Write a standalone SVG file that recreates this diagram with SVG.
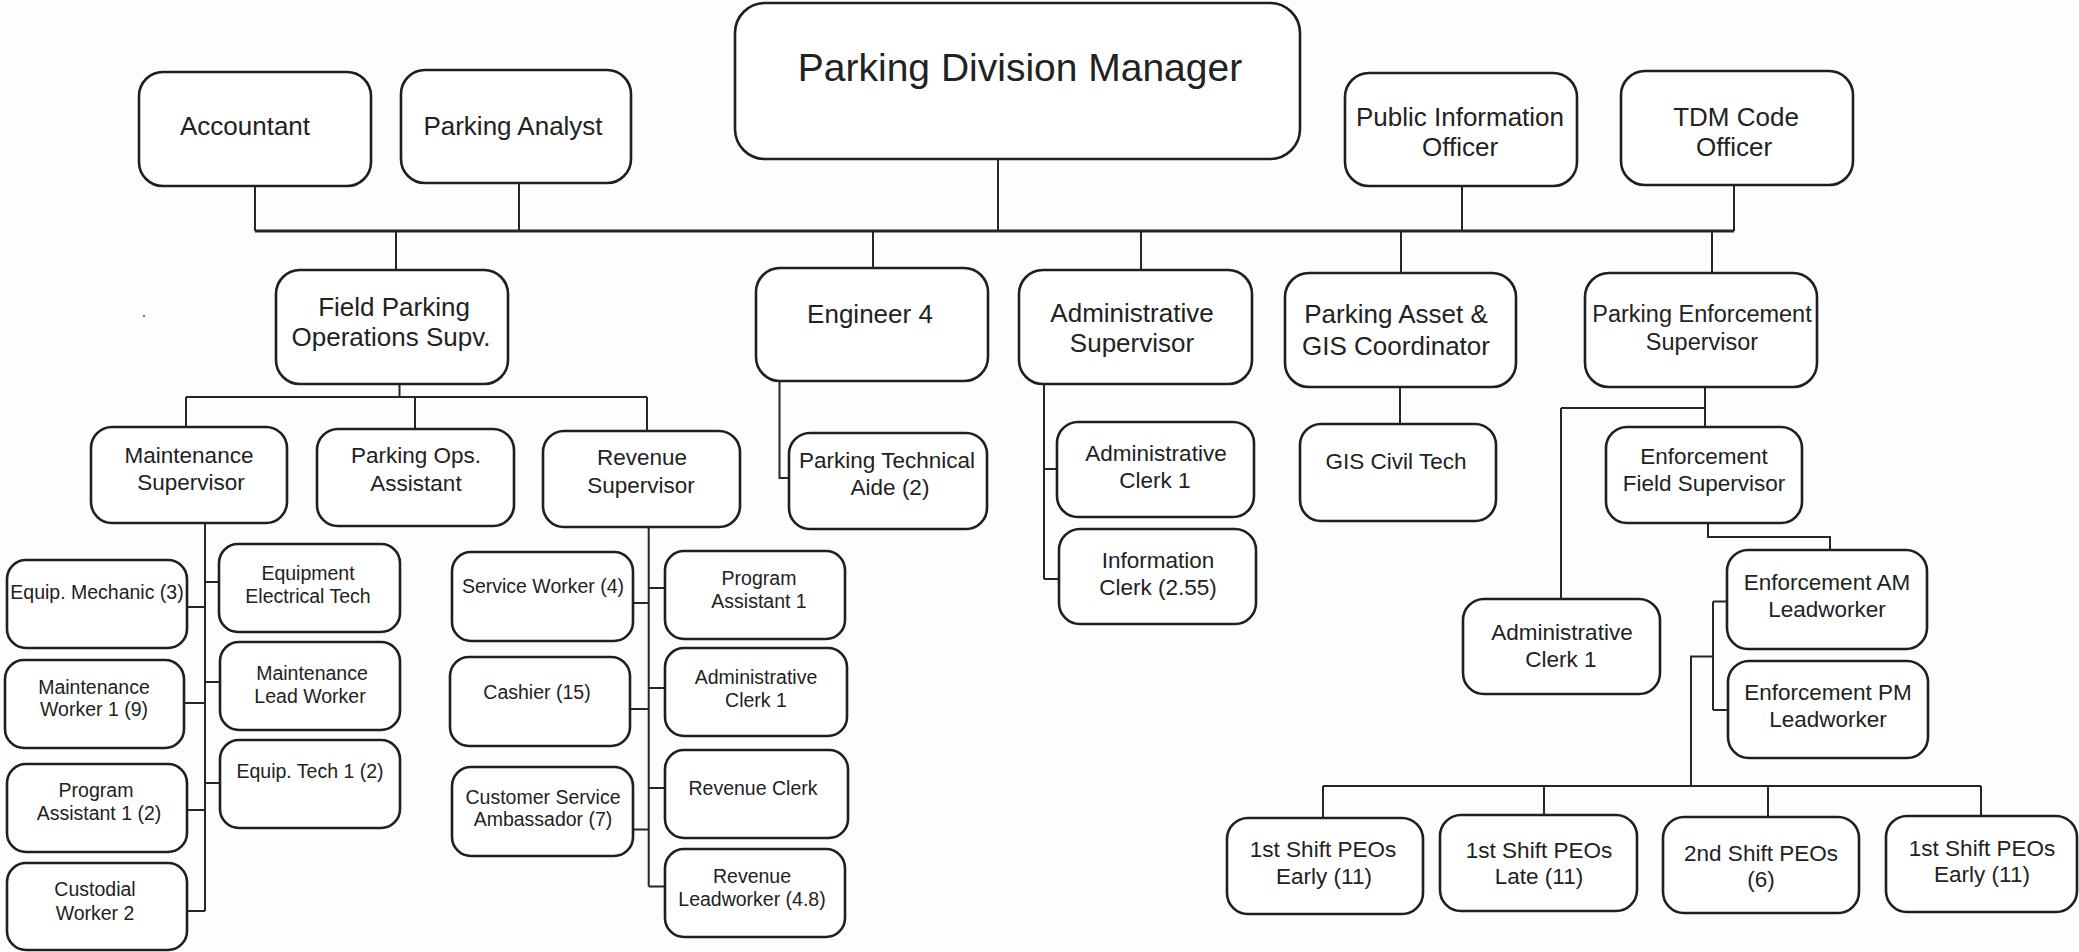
<svg xmlns="http://www.w3.org/2000/svg" width="2079" height="952" viewBox="0 0 2079 952">
<style>
.box{fill:#fff;stroke:#1f1f1f;stroke-width:2.6}
.c{fill:none;stroke:#262626;stroke-width:2}
.bus{fill:none;stroke:#262626;stroke-width:3.2}
text{font-family:"Liberation Sans",Arial,sans-serif;fill:#222;text-anchor:middle}
.f39{font-size:39px}
.f26{font-size:26px}
.f235{font-size:23.5px}
.f22{font-size:22.5px}
.f19{font-size:19.5px}
</style>
<rect x="0" y="0" width="2079" height="952" fill="#fdfdfd"/>
<circle cx="144" cy="316" r="1.2" fill="#777"/>
<g id="connectors">
<path class="c" d="M255 186V231M519 183V231M998 159V231M1462 186V231M1734 185V231"/>
<path class="bus" d="M255 231H1734"/>
<path class="c" d="M396 231V270M873 231V268M1141 231V270M1401 231V273M1712 231V273"/>
<path class="c" d="M399.5 384V397M186 397H647M186 397V427M415 397V429M647 397V431"/>
<path class="c" d="M205 523V911M187 607H205M184 703H205M187 810H205M187 911H205M205 582H219M205 682H220M205 783H220"/>
<path class="c" d="M648.7 527V886.6M633 603H648.7M630 709H648.7M633 829.6H648.7M648.7 588H665M648.7 688H665M648.7 788H665M648.7 886.6H665"/>
<path class="c" d="M779.5 381V478H789"/>
<path class="c" d="M1044 384V579M1044 469H1057M1044 579H1059"/>
<path class="c" d="M1400 387V424"/>
<path class="c" d="M1705 387V427M1561 408H1705M1561 408V599"/>
<path class="c" d="M1708 523V537H1830V550"/>
<path class="c" d="M1713 601.5V710M1713 601.5H1727M1713 710H1728M1713 656.5H1691V786"/>
<path class="c" d="M1323 786H1981M1323 786V818M1544 786V815M1768 786V817M1981 786V816"/>
</g>
<g id="manager"><rect class="box" x="735" y="3" width="565" height="156" rx="30"/><text class="f39" x="1020" y="81">Parking Division Manager</text></g>
<g id="accountant"><rect class="box" x="139" y="72" width="232" height="114" rx="24"/><text class="f26" x="245" y="135">Accountant</text></g>
<g id="analyst"><rect class="box" x="401" y="70" width="230" height="113" rx="24"/><text class="f26" x="513" y="135">Parking Analyst</text></g>
<g id="pio"><rect class="box" x="1345" y="73" width="232" height="113" rx="24"/><text class="f26" x="1460" y="126">Public Information</text><text class="f26" x="1460" y="156">Officer</text></g>
<g id="tdm"><rect class="box" x="1621" y="71" width="232" height="114" rx="24"/><text class="f26" x="1736" y="126">TDM Code</text><text class="f26" x="1734" y="156">Officer</text></g>
<g id="fpos"><rect class="box" x="276" y="270" width="232" height="114" rx="24"/><text class="f26" x="394" y="316">Field Parking</text><text class="f26" x="391" y="346">Operations Supv.</text></g>
<g id="eng4"><rect class="box" x="756" y="268" width="232" height="113" rx="24"/><text class="f26" x="870" y="323">Engineer 4</text></g>
<g id="adminsup"><rect class="box" x="1019" y="270" width="233" height="114" rx="24"/><text class="f26" x="1132" y="322">Administrative</text><text class="f26" x="1132" y="352">Supervisor</text></g>
<g id="asset"><rect class="box" x="1285" y="273" width="231" height="114" rx="24"/><text class="f26" x="1396" y="323">Parking Asset &amp;</text><text class="f26" x="1396" y="355">GIS Coordinator</text></g>
<g id="pes"><rect class="box" x="1585" y="273" width="232" height="114" rx="24"/><text class="f235" x="1702" y="322">Parking Enforcement</text><text class="f235" x="1702" y="350">Supervisor</text></g>
<g id="maintsup"><rect class="box" x="91" y="427" width="196" height="96" rx="21"/><text class="f22" x="189" y="463">Maintenance</text><text class="f22" x="191" y="490">Supervisor</text></g>
<g id="opsasst"><rect class="box" x="317" y="429" width="197" height="97" rx="21"/><text class="f22" x="416" y="463">Parking Ops.</text><text class="f22" x="416" y="491">Assistant</text></g>
<g id="revsup"><rect class="box" x="543" y="431" width="197" height="96" rx="21"/><text class="f22" x="642" y="465">Revenue</text><text class="f22" x="641" y="493">Supervisor</text></g>
<g id="pta"><rect class="box" x="789" y="433" width="198" height="96" rx="21"/><text class="f22" x="887" y="468">Parking Technical</text><text class="f22" x="890" y="495">Aide (2)</text></g>
<g id="adminclerk1a"><rect class="box" x="1057" y="422" width="197" height="95" rx="21"/><text class="f22" x="1156" y="461">Administrative</text><text class="f22" x="1155" y="488">Clerk 1</text></g>
<g id="infoclerk"><rect class="box" x="1059" y="529" width="197" height="95" rx="21"/><text class="f22" x="1158" y="568">Information</text><text class="f22" x="1158" y="595">Clerk (2.55)</text></g>
<g id="gis"><rect class="box" x="1300" y="424" width="196" height="97" rx="21"/><text class="f22" x="1396" y="469">GIS Civil Tech</text></g>
<g id="efs"><rect class="box" x="1606" y="427" width="196" height="96" rx="21"/><text class="f22" x="1704" y="464">Enforcement</text><text class="f22" x="1704" y="491">Field Supervisor</text></g>
<g id="adminclerk1b"><rect class="box" x="1463" y="599" width="197" height="95" rx="21"/><text class="f22" x="1562" y="640">Administrative</text><text class="f22" x="1561" y="667">Clerk 1</text></g>
<g id="amlead"><rect class="box" x="1727" y="550" width="200" height="99" rx="21"/><text class="f22" x="1827" y="590">Enforcement AM</text><text class="f22" x="1827" y="617">Leadworker</text></g>
<g id="pmlead"><rect class="box" x="1728" y="661" width="200" height="97" rx="21"/><text class="f22" x="1828" y="700">Enforcement PM</text><text class="f22" x="1828" y="727">Leadworker</text></g>
<g id="peo1"><rect class="box" x="1227" y="818" width="196" height="96" rx="21"/><text class="f22" x="1323" y="857">1st Shift PEOs</text><text class="f22" x="1324" y="884">Early (11)</text></g>
<g id="peo2"><rect class="box" x="1440" y="815" width="197" height="96" rx="21"/><text class="f22" x="1539" y="858">1st Shift PEOs</text><text class="f22" x="1539" y="884">Late (11)</text></g>
<g id="peo3"><rect class="box" x="1663" y="817" width="196" height="96" rx="21"/><text class="f22" x="1761" y="861">2nd Shift PEOs</text><text class="f22" x="1761" y="887">(6)</text></g>
<g id="peo4"><rect class="box" x="1886" y="816" width="191" height="96" rx="21"/><text class="f22" x="1982" y="856">1st Shift PEOs</text><text class="f22" x="1982" y="882">Early (11)</text></g>
<g id="equipmech"><rect class="box" x="7" y="560" width="180" height="88" rx="19"/><text class="f19" x="97" y="599">Equip. Mechanic (3)</text></g>
<g id="eet"><rect class="box" x="219" y="544" width="181" height="88" rx="19"/><text class="f19" x="308" y="580">Equipment</text><text class="f19" x="308" y="603">Electrical Tech</text></g>
<g id="mw1"><rect class="box" x="5" y="660" width="179" height="88" rx="19"/><text class="f19" x="94" y="694">Maintenance</text><text class="f19" x="94" y="716">Worker 1 (9)</text></g>
<g id="mlw"><rect class="box" x="220" y="642" width="180" height="88" rx="19"/><text class="f19" x="312" y="680">Maintenance</text><text class="f19" x="310" y="703">Lead Worker</text></g>
<g id="pa12"><rect class="box" x="7" y="764" width="180" height="88" rx="19"/><text class="f19" x="96" y="797">Program</text><text class="f19" x="99" y="820">Assistant 1 (2)</text></g>
<g id="et12"><rect class="box" x="220" y="740" width="180" height="88" rx="19"/><text class="f19" x="310" y="778">Equip. Tech 1 (2)</text></g>
<g id="cw2"><rect class="box" x="7" y="863" width="180" height="87" rx="19"/><text class="f19" x="95" y="896">Custodial</text><text class="f19" x="95" y="920">Worker 2</text></g>
<g id="sw4"><rect class="box" x="452" y="552" width="181" height="89" rx="19"/><text class="f19" x="543" y="593">Service Worker (4)</text></g>
<g id="cashier"><rect class="box" x="450" y="657" width="180" height="89" rx="19"/><text class="f19" x="537" y="699">Cashier (15)</text></g>
<g id="csa"><rect class="box" x="452" y="767" width="181" height="89" rx="19"/><text class="f19" x="543" y="804">Customer Service</text><text class="f19" x="543" y="826">Ambassador (7)</text></g>
<g id="pa1"><rect class="box" x="665" y="551" width="180" height="88" rx="19"/><text class="f19" x="759" y="585">Program</text><text class="f19" x="759" y="608">Assistant 1</text></g>
<g id="ac1r"><rect class="box" x="665" y="648" width="182" height="88" rx="19"/><text class="f19" x="756" y="684">Administrative</text><text class="f19" x="756" y="707">Clerk 1</text></g>
<g id="rc"><rect class="box" x="665" y="750" width="183" height="88" rx="19"/><text class="f19" x="753" y="795">Revenue Clerk</text></g>
<g id="rl"><rect class="box" x="665" y="849" width="180" height="88" rx="19"/><text class="f19" x="752" y="883">Revenue</text><text class="f19" x="752" y="906">Leadworker (4.8)</text></g>
</svg>
